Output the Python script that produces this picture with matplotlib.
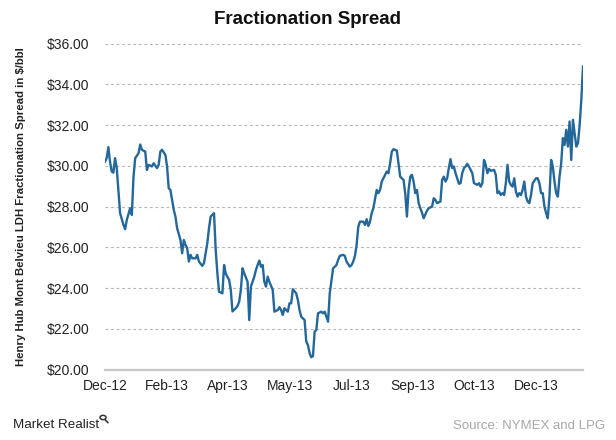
import matplotlib
matplotlib.use("Agg")
import matplotlib.pyplot as plt
from matplotlib.patches import Circle
from matplotlib.lines import Line2D
from matplotlib import font_manager

# ---- data (trading-day index, $/bbl) ----
day = [0, 1, 2, 3, 4, 5, 6, 7, 8, 9, 11, 12, 13, 15, 16, 17, 18, 20, 21, 22,
       24, 25, 26, 28, 29, 31, 32, 33, 34, 36, 37, 38, 39, 41, 42, 43, 45, 46, 47, 48,
       49, 50, 51, 52, 54, 55, 56, 58, 59, 61, 62, 63, 65, 66, 67, 68, 70, 71, 72, 74,
       75, 76, 78, 79, 80, 81, 82, 83, 85, 86, 87, 89, 90, 91, 92, 93, 94, 95, 96, 97,
       98, 100, 101, 103, 104, 105, 106, 107, 109, 110, 111, 112, 114, 115, 116, 117, 119, 120, 121, 122,
       123, 124, 125, 126, 127, 129, 130, 131, 132, 133, 134, 136, 137, 138, 139, 140, 142, 143, 144, 146,
       147, 148, 149, 150, 151, 152, 154, 155, 156, 157, 158, 159, 160, 162, 163, 164, 165, 167, 168, 169,
       170, 171, 172, 174, 175, 176, 177, 178, 179, 180, 181, 182, 183, 184, 185, 186, 187, 188, 189, 190,
       192, 193, 195, 196, 197, 198, 200, 201, 202, 203, 204, 205, 206, 207, 208, 209, 210, 211, 212, 213,
       214, 215, 216, 217, 218, 219, 220, 222, 223, 224, 225, 226, 227, 228, 229, 230, 232, 233, 234, 235,
       236, 237, 238, 239, 240, 241, 242, 243, 244, 245, 246, 247, 248, 249, 250, 251, 252, 253, 254, 255,
       257, 258, 259, 260, 261, 262, 263, 264, 265, 266, 267, 268, 269, 270, 271, 272, 273, 274, 275, 276,
       277, 278, 279, 280, 281, 282, 283, 284, 285]
spread = [30.21, 30.38, 30.92, 30.20, 29.72, 29.67, 30.38, 29.89, 28.82, 27.68, 27.10, 26.89, 27.35, 27.92, 27.59, 29.47, 30.38, 30.62, 31.05, 30.79,
          30.70, 29.80, 30.05, 29.97, 30.13, 29.89, 30.05, 30.70, 30.79, 30.54, 29.97, 28.90, 28.82, 27.84, 27.51, 26.94, 26.36, 25.71, 26.36, 26.12,
          25.96, 25.30, 25.63, 25.46, 25.46, 25.63, 25.30, 25.09, 25.22, 26.20, 26.94, 27.51, 27.68, 25.87, 24.73, 23.82, 23.74, 25.13, 24.70, 24.40,
          23.91, 22.85, 23.01, 23.12, 23.33, 23.91, 24.97, 24.73, 24.31, 22.43, 24.07, 24.56, 24.89, 25.13, 25.35, 25.05, 25.13, 24.31, 24.07, 24.56,
          24.31, 23.91, 22.84, 22.92, 23.06, 22.92, 22.68, 23.01, 22.84, 23.25, 23.25, 23.94, 23.74, 23.41, 22.92, 22.59, 22.43, 21.37, 21.20, 20.80,
          20.60, 20.66, 21.86, 21.94, 22.76, 22.84, 22.76, 22.84, 22.59, 22.35, 23.74, 24.97, 25.05, 25.13, 25.38, 25.58, 25.63, 25.58, 25.30, 25.05,
          25.13, 25.30, 25.57, 26.10, 27.00, 27.26, 27.26, 27.10, 27.38, 27.05, 27.26, 27.68, 27.92, 28.82, 28.66, 28.82, 29.23, 29.56, 29.72, 29.64,
          30.13, 30.70, 30.82, 30.75, 30.13, 29.47, 29.39, 29.31, 28.66, 27.51, 28.82, 29.47, 29.56, 29.23, 28.66, 28.82, 28.17, 27.92, 27.70, 27.43,
          27.80, 27.92, 28.00, 28.41, 28.33, 28.17, 28.25, 29.31, 29.47, 29.23, 29.39, 29.89, 30.33, 29.89, 29.97, 29.64, 29.39, 29.12, 29.15, 29.64,
          29.89, 29.97, 30.10, 29.97, 29.80, 29.64, 29.15, 29.07, 29.15, 28.98, 29.15, 30.29, 30.05, 29.64, 29.85, 29.76, 29.80, 29.56, 28.66, 28.74,
          28.57, 28.66, 28.57, 29.15, 30.05, 29.23, 29.07, 28.98, 29.39, 28.74, 28.49, 28.66, 28.57, 28.82, 29.23, 28.49, 28.25, 28.17, 28.57, 29.15,
          29.39, 29.39, 29.15, 28.66, 28.66, 28.00, 27.68, 27.43, 28.49, 30.29, 29.97, 29.23, 28.66, 28.49, 29.47, 30.13, 31.36, 31.03, 31.77, 30.95,
          32.18, 30.29, 32.26, 31.61, 30.95, 31.11, 32.01, 33.24, 34.88]
tick_labels = ["Dec-12", "Feb-13", "Apr-13", "May-13", "Jul-13", "Sep-13", "Oct-13", "Dec-13"]
y_ticks = [20, 22, 24, 26, 28, 30, 32, 34, 36]

FONT = ["Liberation Sans", "DejaVu Sans"]
plt.rcParams["font.family"] = FONT

installed = {f.name for f in font_manager.fontManager.ttflist}
logo_family = ["Liberation Sans Narrow", "Liberation Sans"] if "Liberation Sans Narrow" in installed else ["Liberation Sans"]
logo_size = 11 if "Liberation Sans Narrow" in installed else 9.6

fig = plt.figure(figsize=(6.16, 4.40), dpi=100)
ax = fig.add_axes([105 / 616, 1 - 369.5 / 440, 478 / 616, 325.8 / 440])

ax.plot(day, spread, color="#23679b", linewidth=1.7, solid_joinstyle="round")

ax.set_xlim(0, 285)
ax.set_ylim(20, 36)
step = 36.7
ax.set_xticks([i * step for i in range(len(tick_labels))])
ax.set_xticklabels(tick_labels, fontsize=10, color="#222222")
ax.set_yticks(y_ticks)
ax.set_yticklabels([f"${v:.2f}" for v in y_ticks], fontsize=10, color="#222222")
ax.tick_params(axis="both", length=0)
ax.tick_params(axis="x", pad=7)
ax.tick_params(axis="y", pad=11)

for v in y_ticks[1:]:
    ax.axhline(v, color="#b5b5b5", linewidth=0.8, linestyle=(0, (2.5, 2.5)), zorder=0)
for s in ["top", "right", "left"]:
    ax.spines[s].set_visible(False)
ax.spines["bottom"].set_color("#c8c8c8")
ax.spines["bottom"].set_linewidth(1.6)

ax.set_ylabel("Henry Hub Mont Belvieu LDH Fractionation Spread in $/bbl",
              fontsize=8.2, fontweight="bold", color="#222222")
ax.yaxis.set_label_coords(-0.165, 0.5)

fig.text(0.5, 1 - 19 / 440, "Fractionation Spread", ha="center", va="center",
         fontsize=13.5, fontweight="bold", color="#111111")

fig.text(13 / 616, 1 - 425 / 440, "Market Realist", ha="left", va="center",
         fontsize=logo_size, color="#222222", family=logo_family)
# small magnifier mark of the logo
circ = Circle((103 / 616, 1 - 417.5 / 440), 3.0 / 616, transform=fig.transFigure,
              fill=False, edgecolor="#333333", linewidth=1.1)
fig.patches.append(circ)
fig.lines.append(Line2D([105.2 / 616, 107.8 / 616], [1 - 419.8 / 440, 1 - 422.5 / 440],
                        transform=fig.transFigure, color="#333333", linewidth=1.2))

fig.text(605 / 616, 1 - 426 / 440, "Source: NYMEX and LPG", ha="right", va="center",
         fontsize=9.5, color="#a8a8a8")

fig.savefig("out.png", dpi=100, facecolor="white")
